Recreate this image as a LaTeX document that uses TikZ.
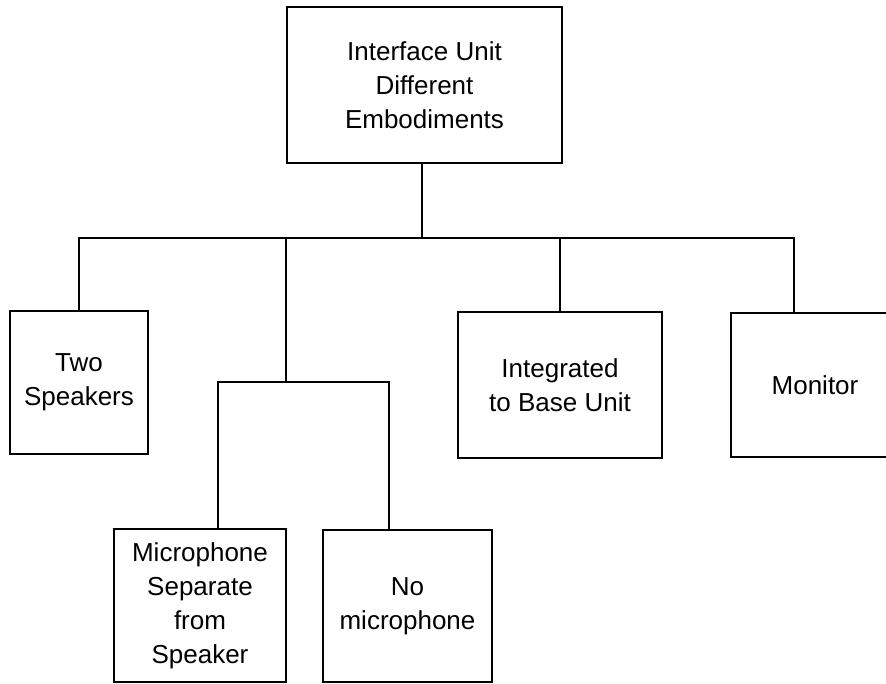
\documentclass[tikz,border=0pt]{standalone}
\usepackage{fontspec}
\setmainfont{Liberation Sans}
\begin{document}
\begin{tikzpicture}[
    x=1pt, y=-1pt,
    box/.style={rectangle, draw, line width=1.8pt, inner sep=0pt, align=center, font=\fontsize{26}{34}\selectfont},
    link/.style={line width=1.8pt}
]
\clip (0,0) rectangle (886,683);

% Top: interface unit
\node[box, minimum width=275pt, minimum height=156pt] (unit) at (424.5,85) {Interface Unit\\Different\\Embodiments};

% Middle row: embodiments
\node[box, minimum width=138pt, minimum height=143pt] (speakers) at (79,382.5) {Two\\Speakers};
\node[box, minimum width=204pt, minimum height=146pt] (integrated) at (560,385) {Integrated\\to Base Unit};
\node[box, minimum width=168pt, minimum height=144pt] (monitor) at (815,385) {Monitor};

% Bottom row: microphone options
\node[box, minimum width=172pt, minimum height=153pt] (micsep) at (200,605.5) {Microphone\\Separate\\from\\Speaker};
\node[box, minimum width=169pt, minimum height=152pt] (nomic) at (407.5,606) {No\\microphone};

% Junction points
\coordinate (bus) at (422,238);
\coordinate (split) at (286,382);
\coordinate (monjoin) at (794,238);
\coordinate (micjoin) at (218,382);
\coordinate (nomicjoin) at (389,382);

% Connectors - top tree
\draw[link] (bus |- unit.south) -- (bus);
\draw[link] (speakers.north) |- (bus) -- (monjoin) -- (monjoin |- monitor.north);
\draw[link] (integrated.north) -- (integrated.north |- bus);
\draw[link] (split |- bus) -- (split);

% Connectors - microphone split
\draw[link] (micjoin |- micsep.north) -- (micjoin) -- (nomicjoin) -- (nomicjoin |- nomic.north);

\end{tikzpicture}
\end{document}
